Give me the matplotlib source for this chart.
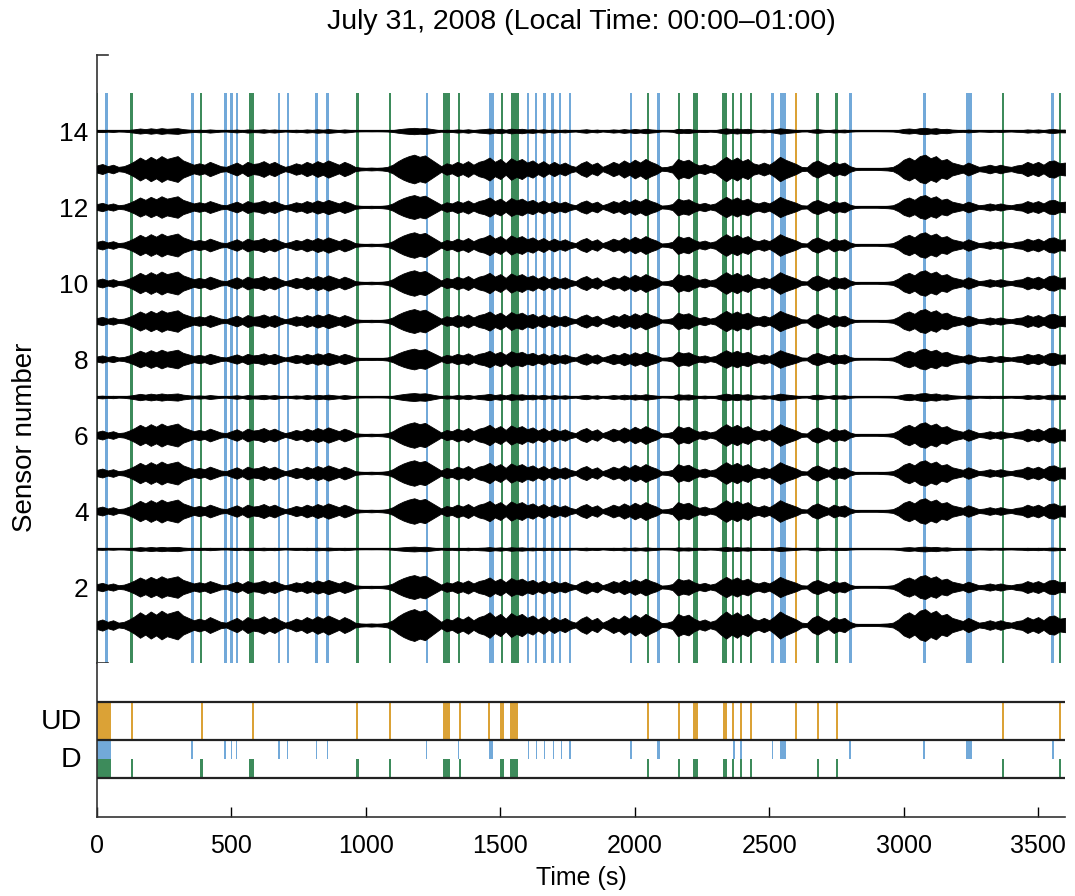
import numpy as np
import matplotlib
matplotlib.use("Agg")
import matplotlib.pyplot as plt

plt.rcParams['font.family'] = ['Liberation Sans', 'DejaVu Sans']

# Colours
BLUE = "#72a9d9"
GREEN = "#3d8b5b"
ORANGE = "#dba236"

sensors = list(range(1, 15))
sensor_gain = [1.0, 0.75, 0.15, 0.8, 0.8, 0.8, 0.25, 0.65, 0.75, 0.8, 0.8, 0.75, 0.9, 0.2]

# Common amplitude envelope, every 20 s (0 .. 3600 s)
env_time = list(range(0, 3601, 20))
envelope = [
    0.25, 0.35, 0.20, 0.30, 0.15, 0.20, 0.35, 0.55, 0.80, 0.60,
    0.85, 0.65, 0.90, 0.70, 0.80, 0.90, 0.60, 0.45, 0.30, 0.40,
    0.30, 0.50, 0.35, 0.20, 0.15, 0.30, 0.45, 0.25, 0.50, 0.35,
    0.40, 0.55, 0.35, 0.50, 0.30, 0.15, 0.25, 0.40, 0.30, 0.50,
    0.35, 0.55, 0.40, 0.60, 0.45, 0.30, 0.50, 0.35, 0.15, 0.10,
    0.08, 0.10, 0.08, 0.10, 0.15, 0.30, 0.55, 0.75, 0.90, 1.00,
    0.85, 0.95, 0.70, 0.45, 0.20, 0.40, 0.30, 0.50, 0.35, 0.55,
    0.30, 0.50, 0.60, 0.80, 0.50, 0.70, 0.40, 0.75, 0.55, 0.70,
    0.45, 0.60, 0.35, 0.55, 0.30, 0.50, 0.30, 0.45, 0.25, 0.15,
    0.40, 0.55, 0.30, 0.45, 0.15, 0.30, 0.50, 0.35, 0.60, 0.40,
    0.65, 0.45, 0.70, 0.50, 0.35, 0.12, 0.15, 0.25, 0.70, 0.55,
    0.65, 0.40, 0.25, 0.35, 0.20, 0.30, 0.60, 0.85, 0.60, 0.80,
    0.55, 0.70, 0.40, 0.30, 0.45, 0.30, 0.55, 0.85, 0.65, 0.50,
    0.35, 0.15, 0.12, 0.45, 0.60, 0.40, 0.25, 0.50, 0.35, 0.45,
    0.20, 0.08, 0.06, 0.06, 0.06, 0.06, 0.08, 0.10, 0.15, 0.35,
    0.65, 0.80, 0.60, 0.90, 1.00, 0.75, 0.90, 0.60, 0.70, 0.45,
    0.35, 0.25, 0.45, 0.30, 0.15, 0.20, 0.30, 0.20, 0.30, 0.20,
    0.15, 0.25, 0.30, 0.50, 0.35, 0.50, 0.30, 0.55, 0.60, 0.40,
    0.45,
]

# Event lines in the sensor panel (time s, duration s)
main_blue_t = [36, 356, 478, 501, 520, 677, 710, 817, 858, 1228, 1468, 1604, 1633,
               1664, 1694, 1722, 1759, 1986, 2088, 2513, 2552, 2803, 3077, 3243, 3554]
main_blue_d = [9, 12, 9, 9, 9, 9, 9, 9, 9, 9, 18, 9, 9,
               9, 9, 9, 9, 9, 14, 9, 22, 9, 9, 22, 9]
main_green_t = [0, 129, 387, 575, 969, 1090, 1300, 1347, 1507, 1554, 2050, 2164, 2226,
                2335, 2366, 2395, 2432, 2680, 2751, 3370, 3581]
main_green_d = [9, 9, 9, 18, 9, 9, 25, 9, 9, 30, 9, 9, 18,
                18, 9, 9, 9, 9, 9, 9, 9]
main_orange_t = [2600]
main_orange_d = [9]

# Detection bars in the lower panel (time s, duration s)
ud_t = [26, 129, 389, 579, 968, 1090, 1300, 1350, 1458, 1507, 1552, 2050, 2164, 2226,
        2336, 2364, 2394, 2432, 2600, 2680, 2751, 3368, 3581]
ud_d = [52, 7, 7, 7, 7, 7, 25, 7, 7, 13, 29, 7, 7, 16,
        15, 7, 7, 7, 7, 7, 7, 7, 7]
d_blue_t = [26, 355, 476, 501, 519, 677, 709, 817, 858, 1226, 1344, 1466, 1604, 1635,
            1664, 1697, 1728, 1759, 1986, 2088, 2369, 2395, 2513, 2551, 2800, 3075,
            3243, 3554]
d_blue_d = [52, 7, 5, 5, 5, 7, 5, 5, 5, 5, 5, 16, 5, 5,
            5, 5, 5, 5, 7, 10, 5, 5, 5, 22, 10, 5,
            19, 7]
d_green_t = [26, 129, 389, 575, 970, 1090, 1300, 1350, 1507, 1552, 2050, 2164, 2226,
             2336, 2364, 2394, 2432, 2680, 2751, 3368, 3581]
d_green_d = [52, 8, 8, 18, 10, 7, 25, 8, 13, 29, 7, 8, 16,
             15, 7, 8, 8, 8, 7, 7, 8]

xticks = [0, 500, 1000, 1500, 2000, 2500, 3000, 3500]
row_labels = ["D", "UD"]

AMP = 0.42  # envelope scale in sensor units

fig = plt.figure(figsize=(10.75, 8.96), dpi=100)
ax = fig.add_axes([0.0902, 0.26, 0.9005, 0.6786])
ax2 = fig.add_axes([0.0902, 0.0882, 0.9005, 0.1718])

# event lines behind the traces
ax.bar(main_orange_t, 15, width=main_orange_d, bottom=0, color=ORANGE, linewidth=0, zorder=1)
ax.bar(main_blue_t, 15, width=main_blue_d, bottom=0, color=BLUE, linewidth=0, zorder=1)
ax.bar(main_green_t, 15, width=main_green_d, bottom=0, color=GREEN, linewidth=0, zorder=1)

env = np.array(envelope)
for s, g in zip(sensors, sensor_gain):
    ax.fill_between(env_time, s - AMP * g * env, s + AMP * g * env,
                    color="black", linewidth=0.6, zorder=3)
ax.hlines(sensors, 0, 3600, color="black", linewidth=1.6, zorder=4)

ax.set_xlim(0, 3600)
ax.set_ylim(0, 16)
ax.set_yticks([2, 4, 6, 8, 10, 12, 14])
ax.set_xticks([])
ax.tick_params(axis='y', direction='in', length=0, labelsize=19, pad=6)
for sp in ['top', 'right', 'bottom']:
    ax.spines[sp].set_visible(False)
ax.spines['left'].set_linewidth(1.2)
ax.spines['left'].set_color("#333333")
# little caps on the left axis line
ax.plot([0, 0.011], [1, 1], transform=ax.transAxes, color="#333333", lw=1.2, clip_on=False)
ax.plot([0, 0.011], [0, 0], transform=ax.transAxes, color="#333333", lw=1.2, clip_on=False)

# lower panel
ax2.bar(ud_t, 1, width=ud_d, bottom=2, color=ORANGE, linewidth=0, zorder=1)
ax2.bar(d_blue_t, 0.5, width=d_blue_d, bottom=1.5, color=BLUE, linewidth=0, zorder=1)
ax2.bar(d_green_t, 0.5, width=d_green_d, bottom=1, color=GREEN, linewidth=0, zorder=1)
ax2.hlines([1, 2, 3], 0, 3600, color="#222222", linewidth=1.6, zorder=3)
ax2.set_xlim(0, 3600)
ax2.set_ylim(0, 4)
ax2.set_yticks([1.55, 2.55])
ax2.set_yticklabels(row_labels)
ax2.set_xticks(xticks)
ax2.tick_params(axis='y', length=0, labelsize=20.5, pad=11)
ax2.tick_params(axis='x', direction='in', length=7, width=1.0, labelsize=18, pad=12)
for sp in ['top', 'right']:
    ax2.spines[sp].set_visible(False)
for sp in ['left', 'bottom']:
    ax2.spines[sp].set_linewidth(1.2)
    ax2.spines[sp].set_color("#333333")

fig.text(0.5405, 0.9754, "July 31, 2008 (Local Time: 00:00\u201301:00)",
         ha='center', va='center', fontsize=20.5)
fig.text(0.0233, 0.512, "Sensor number", rotation=90, ha='center', va='center', fontsize=20)
fig.text(0.5405, 0.02, "Time (s)", ha='center', va='center', fontsize=18)

fig.savefig("out.png", dpi=100)
